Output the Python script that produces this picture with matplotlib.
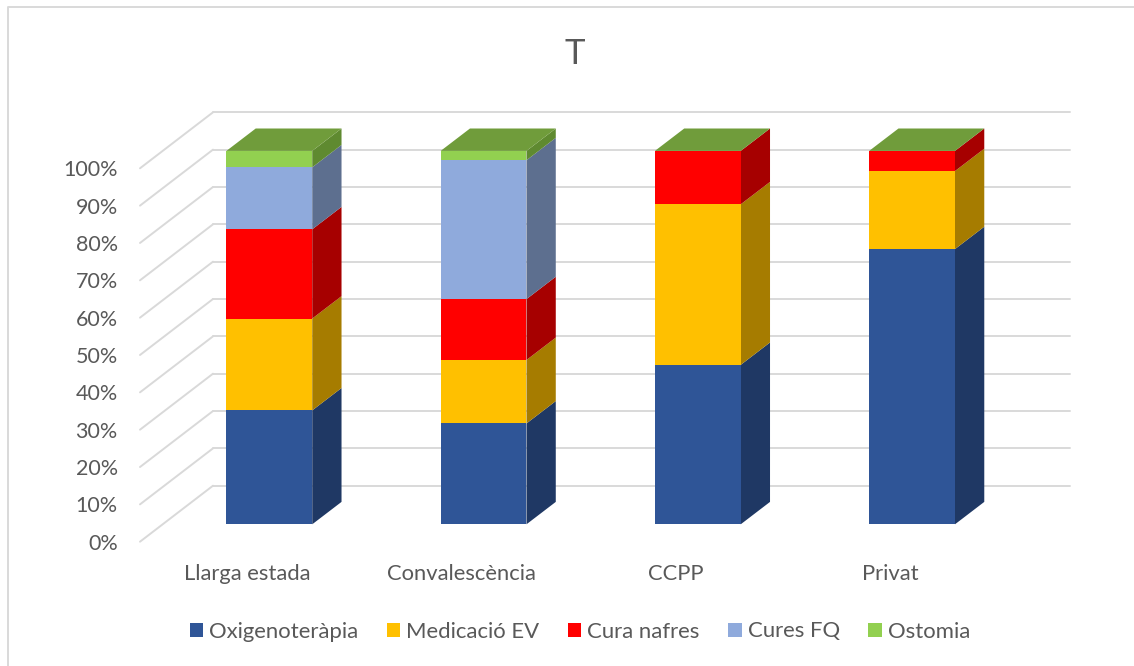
import matplotlib
matplotlib.use("Agg")
import matplotlib.pyplot as plt
from matplotlib.lines import Line2D
from matplotlib.patches import Patch

categories = ["Llarga estada", "Convalescència", "CCPP", "Privat"]
series_names = ["Oxigenoteràpia", "Medicació EV", "Cura nafres", "Cures FQ", "Ostomia"]
oxigenoterapia = [30.5, 27.0, 42.7, 73.7]
medicacio_ev = [24.6, 17.0, 43.0, 20.9]
cura_nafres = [23.9, 16.3, 14.3, 5.4]
cures_fq = [16.6, 37.2, 0.0, 0.0]
ostomia = [4.4, 2.5, 0.0, 0.0]
series_values = [oxigenoterapia, medicacio_ev, cura_nafres, cures_fq, ostomia]
front_colors = ["#2F5597", "#FFC000", "#FF0000", "#8FAADC", "#92D050"]
side_colors = ["#1F3864", "#A67C00", "#A60000", "#5D6F8F", "#5F8A30"]
top_color = "#709C3B"
y_ticks = list(range(0, 101, 10))

W, H = 1134, 666
plt.rcParams["font.family"] = ["Lato", "DejaVu Sans"]
TXT = "#595959"
GRID = "#D9D9D9"

fig = plt.figure(figsize=(W / 100, H / 100), dpi=100, facecolor="white")
L, R, T_, B = 140, 997, 168.3, 541.7
ax = fig.add_axes([L / W, 1 - B / H, (R - L) / W, (B - T_) / H])
ax.set_xlim(-0.5, 3.5)
ax.set_ylim(0, 100)
ax.patch.set_visible(False)
for s in ax.spines.values():
    s.set_visible(False)

px_x = (R - L) / 4
px_y = (B - T_) / 100


def ox(px):
    return px / px_x


def oy(px):
    return px / px_y


# walls
wx, wy = ox(73), oy(56)
for v in y_ticks:
    ax.plot([-0.5, -0.5 + wx], [v, v + wy], color=GRID, lw=1.4, clip_on=False, zorder=1,
            solid_capstyle="round")
    ax.plot([-0.5 + wx, 3.5 + wx], [v + wy, v + wy], color=GRID, lw=1.4, clip_on=False, zorder=1,
            solid_capstyle="round")

# bars
fx, fy = ox(22.2), oy(17.4)
dx, dy = ox(29.3), oy(22.4)
bw = ox(85.8)
for i in range(len(categories)):
    base = 0.0
    x0 = i + fx - bw / 2
    x1 = x0 + bw
    for k, vals in enumerate(series_values):
        v = vals[i]
        if v > 0:
            ax.fill([x1, x1 + dx, x1 + dx, x1],
                    [base + fy, base + fy + dy, base + v + fy + dy, base + v + fy],
                    color=side_colors[k], clip_on=False, zorder=3, linewidth=0)
            ax.bar(i + fx, v, width=bw, bottom=base + fy, color=front_colors[k], clip_on=False,
                   zorder=4, linewidth=0)
        base += v
    ax.fill([x0, x1, x1 + dx, x0 + dx],
            [base + fy, base + fy, base + fy + dy, base + fy + dy],
            color=top_color, clip_on=False, zorder=3, linewidth=0)

ax.set_xticks(range(len(categories)), categories)
ax.set_yticks(y_ticks, [f"{v}%" for v in y_ticks])
ax.tick_params(axis="x", length=0, pad=16, labelsize=15.8, labelcolor=TXT)
ax.tick_params(axis="y", length=0, pad=16, labelsize=15.5, labelcolor=TXT)

fig.text(575 / W, 1 - 54 / H, "T", ha="center", va="center", fontsize=25, color=TXT)

handles = [Patch(facecolor=c, edgecolor="none", label=n) for c, n in zip(front_colors, series_names)]
fig.legend(handles=handles, loc="center", bbox_to_anchor=(580 / W, 1 - 631.5 / H), ncol=5,
           frameon=False, fontsize=15.9, labelcolor=TXT, handlelength=0.6, handleheight=0.6,
           handletextpad=0.28, columnspacing=1.29, borderpad=0)

fig.add_artist(Line2D([8 / W, 8 / W, 1], [0, 1 - 7 / H, 1 - 7 / H], color=GRID, lw=1.4))

fig.savefig("out.png", dpi=100)
